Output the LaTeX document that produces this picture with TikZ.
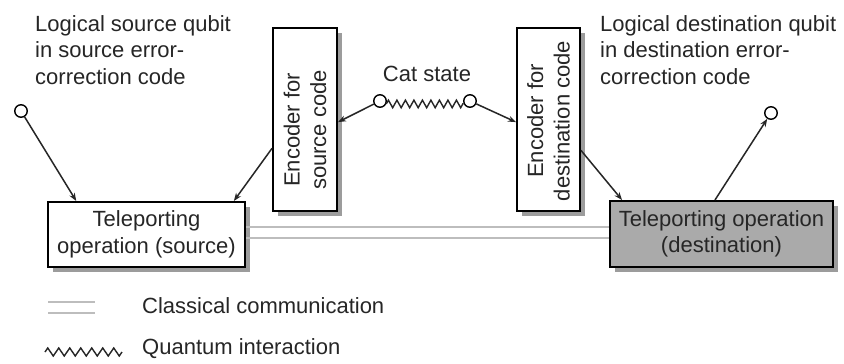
\documentclass[tikz,border=0pt]{standalone}
\usepackage{fontspec}
\setmainfont{Liberation Sans}
\usetikzlibrary{arrows.meta,shadows,decorations.pathmorphing,calc}
\definecolor{txt}{HTML}{262626}
\definecolor{shadowgray}{HTML}{9C9C9C}
\definecolor{destfill}{HTML}{AAAAAA}
\definecolor{classic}{HTML}{BDBDBD}
\begin{document}
\begin{tikzpicture}[x=1pt,y=-1pt,
  every node/.style={font=\fontsize{22}{26.5}\selectfont, text=txt},
  box/.style={draw=black, line width=2pt, fill=white, inner sep=0pt, align=center,
    drop shadow={shadow xshift=5pt, shadow yshift=-5pt, fill=shadowgray, opacity=1}},
  qubit/.style={circle, draw=black, line width=1.4pt, fill=white, minimum size=12.5pt, inner sep=0pt},
  conn/.style={line width=1.5pt, draw=black!85, -{Stealth[length=8pt,width=6pt]}},
  quantum/.style={line width=1.4pt, draw=black!85, decorate,
    decoration={zigzag, segment length=8.5pt, amplitude=3.8pt}},
  classical/.style={line width=1.7pt, draw=classic},
  label/.style={inner sep=0pt, align=left}]
\fill[white] (0,0) rectangle (844,364);
\useasboundingbox (0,0) rectangle (844,364);

% headers
\node[label, anchor=north west] (hs) at (35,15) {Logical source qubit\\in source error-\\correction code};
\node[label, anchor=north west] (hd) at (600,15) {Logical destination qubit\\in destination error-\\correction code};
\node (cat) at (427,74) {Cat state};

% classical link
\node[box, minimum width=197pt, minimum height=65pt] (src) at (146.5,234.5) {Teleporting\\operation (source)};
\node[box, fill=destfill, minimum width=223pt, minimum height=66pt] (dst) at (721.5,234) {Teleporting operation\\(destination)};
\draw[classical] ([yshift=7.5pt]src.east) -- ([yshift=7.5pt]src.east -| dst.west);
\draw[classical] ([yshift=-3.5pt]src.east) -- ([yshift=-3.5pt]src.east -| dst.west);

% encoders
\node[box, minimum width=64pt, minimum height=183pt] (encs) at (305,119.5) {};
\node[box, minimum width=63pt, minimum height=183pt] (encd) at (548.5,119.5) {};
\node[rotate=90, align=center, inner sep=0pt] (encstext) at (305,130) {Encoder for\\source code};
\node[rotate=90, align=center, inner sep=0pt] (encdtext) at (548.5,121) {Encoder for\\destination code};

% qubits
\node[qubit] (qs) at (21,111) {};
\node[qubit] (qd) at (771,113) {};
\node[qubit] (cl) at (380,101) {};
\node[qubit] (cr) at (470,101) {};

% connectors
\draw[quantum] (cl.-25) -- (cr.-155);
\draw[conn] (qs) -- ($(src.north west)!0.147!(src.north east)$);
\draw[conn] ($(encs.north west)!0.656!(encs.south west)$) -- ($(src.north west)!0.939!(src.north east)$);
\draw[conn] (cl) -- ($(encs.north east)!0.514!(encs.south east)$);
\draw[conn] (cr) -- ($(encd.north west)!0.514!(encd.south west)$);
\draw[conn] ($(encd.north east)!0.667!(encd.south east)$) -- ($(dst.north west)!0.058!(dst.north east)$);
\draw[conn] ($(dst.north west)!0.471!(dst.north east)$) -- (qd);

% legend
\coordinate (lca) at (48,302);
\coordinate (lcb) at (95,302);
\coordinate (lcc) at (48,313);
\coordinate (lcd) at (95,313);
\draw[classical] (lca) -- (lcb);
\draw[classical] (lcc) -- (lcd);
\node[label, anchor=west] (lct) at (142,306) {Classical communication};
\coordinate (lqa) at (45,352);
\coordinate (lqb) at (122,352);
\draw[quantum, decoration={zigzag, segment length=11pt, amplitude=4pt}] (lqa) -- (lqb);
\node[label, anchor=west] (lqt) at (142,349) {Quantum interaction};
\end{tikzpicture}
\end{document}
